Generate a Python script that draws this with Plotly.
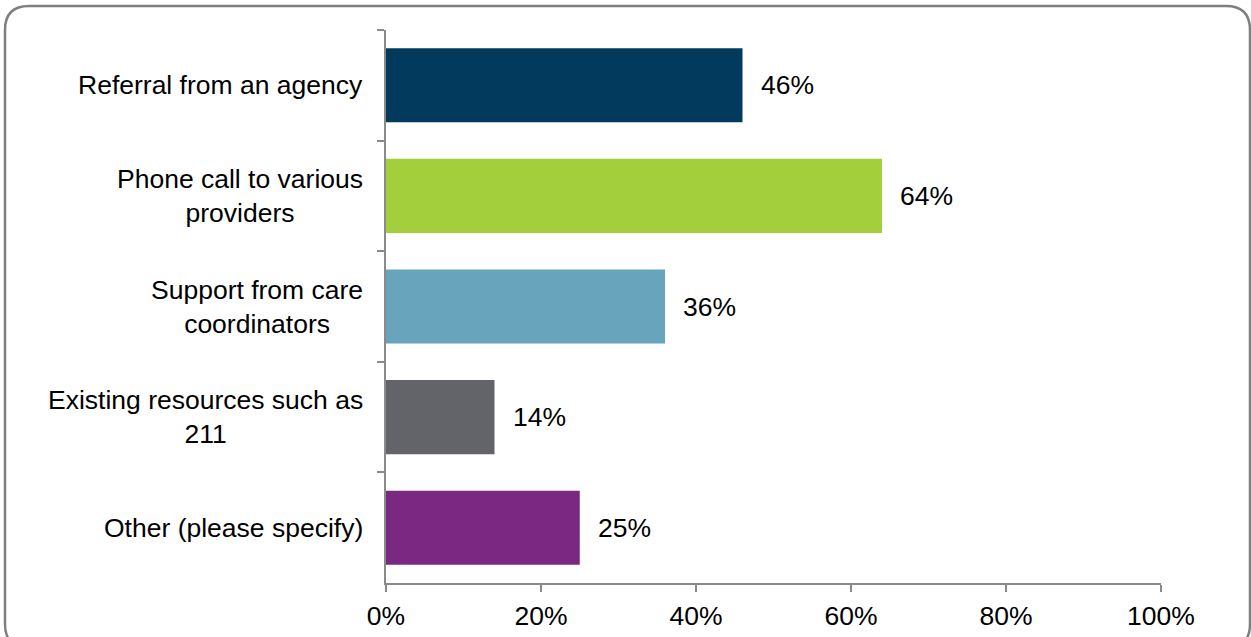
import plotly.graph_objects as go

# Survey responses: how participants found services
categories = [
    "Referral from an agency",
    "Phone call to various providers",
    "Support from care coordinators",
    "Existing resources such as 211",
    "Other (please specify)",
]
tick_labels = [
    "Referral from an agency",
    "Phone call to various<br>providers",
    "Support from care<br>coordinators",
    "Existing resources such as<br>211",
    "Other (please specify)",
]
shares = [0.46, 0.64, 0.36, 0.14, 0.25]
bar_colors = ["#013A5D", "#A4CF3C", "#68A4BC", "#636469", "#7B2882"]
x_ticks = [0, 0.2, 0.4, 0.6, 0.8, 1.0]

W, H = 1251, 637
ML, MR, MT, MB = 386, 90, 30, 54
FONT = "Liberation Sans, Arial, sans-serif"
FS = 26.5
AXIS_GREY = "#8A8A8A"


def px(xp):
    return (xp - ML) / (W - ML - MR)


def py(yp):
    return (H - MB - yp) / (H - MT - MB)


fig = go.Figure(
    go.Bar(
        x=shares,
        y=categories,
        orientation="h",
        marker=dict(color=bar_colors, line=dict(width=0)),
        hoverinfo="skip",
    )
)

# value labels to the right of each bar
for cat, v in zip(categories, shares):
    fig.add_annotation(
        x=v, y=cat, xref="x", yref="y",
        text=f"{v:.0%}", showarrow=False,
        xanchor="left", yanchor="middle", xshift=16,
        font=dict(family=FONT, size=FS, color="#000000"),
    )

# category labels, centred lines, right-aligned block next to the axis
for cat, lab in zip(categories, tick_labels):
    fig.add_annotation(
        x=px(365), y=cat, xref="paper", yref="y",
        text=lab, showarrow=False, align="center",
        xanchor="right", yanchor="middle",
        font=dict(family=FONT, size=FS, color="#000000"),
    )

# rounded frame around the chart
L, T, R, B, r = 5, 6, 1250, 648, 24
frame = (
    f"M {px(L)},{py(T + r)} "
    f"Q {px(L)},{py(T)} {px(L + r)},{py(T)} "
    f"L {px(R - r)},{py(T)} "
    f"Q {px(R)},{py(T)} {px(R)},{py(T + r)} "
    f"L {px(R)},{py(B - r)} "
    f"Q {px(R)},{py(B)} {px(R - r)},{py(B)} "
    f"L {px(L + r)},{py(B)} "
    f"Q {px(L)},{py(B)} {px(L)},{py(B - r)} Z"
)
fig.add_shape(
    type="path", path=frame, xref="paper", yref="paper",
    line=dict(color="#7F7F7F", width=2.5), layer="below",
)

fig.update_layout(
    width=W, height=H,
    margin=dict(l=ML, r=MR, t=MT, b=MB, pad=0, autoexpand=False),
    paper_bgcolor="#FFFFFF", plot_bgcolor="#FFFFFF",
    bargap=0.33, showlegend=False,
    font=dict(family=FONT, size=FS, color="#000000"),
)
fig.update_xaxes(
    range=[0, 1], tickvals=x_ticks, tickformat=".0%",
    showgrid=False, zeroline=False, automargin=False,
    showline=True, linecolor=AXIS_GREY, linewidth=2,
    ticks="outside", ticklen=7, tickwidth=2, tickcolor=AXIS_GREY,
    ticklabelstandoff=1,
    tickfont=dict(family=FONT, size=FS, color="#000000"),
    fixedrange=True,
)
fig.update_yaxes(
    autorange="reversed", showgrid=False, zeroline=False, automargin=False,
    showline=True, linecolor=AXIS_GREY, linewidth=2,
    ticks="outside", ticklen=7, tickwidth=2, tickcolor=AXIS_GREY,
    tickson="boundaries", showticklabels=False,
    fixedrange=True,
)

fig.write_html("out.html", config={"displayModeBar": False})
